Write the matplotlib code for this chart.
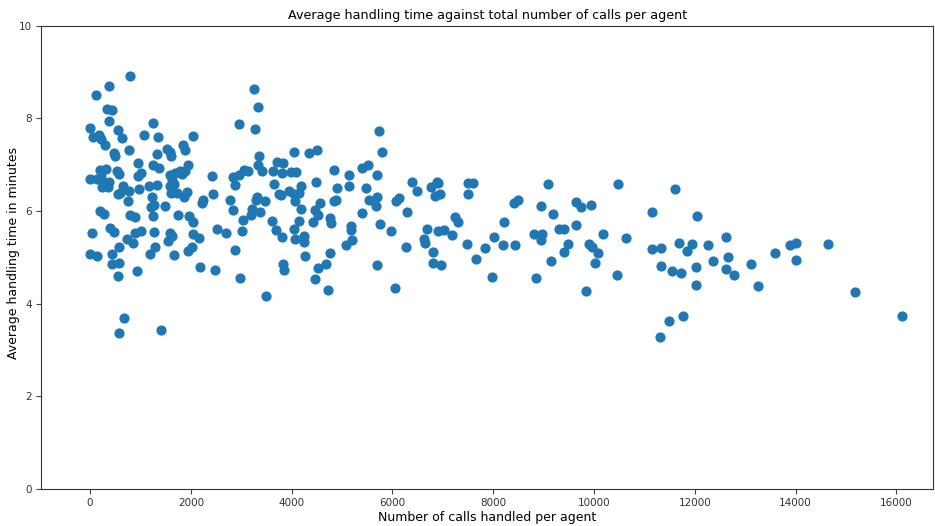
import matplotlib
matplotlib.use("Agg")
import matplotlib.pyplot as plt

# calls handled per agent and their average handling time (minutes)
calls = [
    799, 383, 125, 337, 442, 383, 0, 548, 1249, 59, 172, 218, 628, 1077, 1354,
    297, 779, 470, 490, 1334, 1520, 1580, 1612, 1849, 1877, 951, 1249, 1374,
    205, 317, 132, 0, 218, 264, 370, 244, 363, 541, 581, 945, 1011,
    647, 595, 548, 779, 971, 760, 1176, 1334, 1229, 1209, 1275, 1249, 1480,
    1592, 1685, 1777, 1632, 1586, 1658, 1605, 1718, 1863, 1916, 1738,
    205, 284, 793, 898, 33, 403, 470, 885, 1017, 740, 846, 575, 1268, 1295,
    1183, 0, 132, 442, 442, 575, 548, 931, 674, 568, 1401, 1579, 1632, 1546,
    1665,
    3244, 3343, 2947, 3264, 2035, 1949, 1883, 1817, 2412, 3350, 2834, 2960,
    3058, 3138, 2881, 3336, 3409, 3627, 3720, 3839, 3819, 3984, 4089, 4043,
    4341, 4513, 3660, 3958, 3746, 3799, 4049, 4142, 4069, 4188, 4486, 2432,
    2775, 2834, 3323, 3290, 3469, 3217, 3197, 3369, 3026, 3006, 2517, 2689,
    2213, 2246, 1968, 2035, 2035, 2160, 1949, 2015, 2180, 2471, 2881, 2979,
    3494, 3620, 3687, 3812, 4043, 4063, 4149, 4188, 4241, 4241, 4261, 3832,
    3859, 4426, 4466, 4525, 4572, 4677, 4532, 4466, 4717,
    5741, 5800, 4850, 5147, 5397, 5510, 5695, 4896, 5147, 5484, 5543, 5702,
    5675, 4850, 4876, 4763, 4790, 5397, 5187, 5187, 5207, 5080, 5761, 5966,
    4763, 5695, 6059, 6078, 6124, 6289, 6269, 6396, 6481, 6759, 6884, 6904,
    6951, 6852, 7234, 7308, 6692, 6626, 6640, 6904, 7030, 7181, 6798, 6798,
    6970, 7505, 7505, 7485,
    7604, 7664, 7835, 8007, 7981, 8192, 8219, 8430, 8404, 8496, 8807, 8965,
    8939, 8853, 8939, 9084, 9190, 9315, 9401, 9151, 9401, 9487, 9652, 9738,
    9950, 9652, 9896, 9955, 10088, 10015, 10187, 9844,
    10485, 10630, 10465, 11158, 11608, 12044, 11158, 11330, 11694, 11839,
    11945, 12262, 12619, 11330, 11541, 11733, 12031, 12031, 12368, 12665,
    12619, 12771, 13107, 13259, 11482, 11760, 11311,
    13597, 13893, 14006, 14006, 14653, 15189, 16121,
]
aht = [
    8.92, 8.69, 8.51, 8.21, 8.18, 7.95, 7.79, 7.75, 7.90, 7.60, 7.65, 7.55,
    7.58, 7.65, 7.60, 7.42, 7.31, 7.26, 7.18, 7.23, 7.35, 7.28, 7.19, 7.42,
    7.32, 7.03, 6.99, 6.93,
    6.89, 6.91, 6.70, 6.70, 6.75, 6.63, 6.62, 6.53, 6.53, 6.87, 6.80, 6.75,
    6.82, 6.54, 6.40, 6.37, 6.44, 6.47, 6.22, 6.54, 6.57, 6.30, 6.08, 6.13,
    5.90, 6.11, 6.77, 6.82, 6.87, 6.67, 6.54, 6.58, 6.39, 6.39, 6.31, 6.41,
    5.92, 6.01, 5.94, 5.92, 5.87, 5.53, 5.64, 5.56, 5.53, 5.57, 5.39, 5.32,
    5.23, 5.55, 5.23, 5.07, 5.08, 5.03, 5.07, 4.86, 4.89, 4.60, 4.70, 3.69,
    3.36, 3.43, 5.52, 5.46, 5.36, 5.05,
    8.64, 8.25, 7.88, 7.77, 7.62, 7.00, 6.87, 6.80, 6.75, 7.18, 6.73, 6.79,
    6.89, 6.87, 6.57, 7.00, 6.87, 6.86, 7.06, 7.03, 6.82, 6.84, 6.84, 7.28,
    7.26, 7.33, 6.59, 6.43, 6.36, 6.34, 6.37, 6.39, 6.22, 6.54, 6.62, 6.38,
    6.25, 6.02, 6.31, 6.24, 6.22, 6.04, 5.92, 5.99, 5.80, 5.57, 5.62, 5.53,
    6.17, 6.24, 5.90, 5.76, 5.51, 5.41, 5.14, 5.22, 4.79, 4.74, 5.16, 4.56,
    4.17, 5.78, 5.60, 5.44, 5.62, 5.39, 5.78, 6.05, 5.46, 5.33, 5.04, 4.86,
    4.72, 5.76, 6.02, 5.92, 6.17, 4.87, 4.77, 4.54, 4.30,
    7.74, 7.28, 6.89, 6.77, 6.93, 7.00, 6.77, 6.49, 6.54, 6.49, 6.24, 6.30,
    6.12, 6.22, 6.24, 5.85, 5.74, 5.97, 5.69, 5.59, 5.38, 5.26, 5.72, 5.57,
    5.09, 4.84, 4.35, 6.21, 6.29, 5.99, 5.23, 6.62, 6.43, 6.52, 6.62, 6.60,
    6.38, 6.33, 5.87, 5.76, 5.62, 5.39, 5.32, 5.57, 5.59, 5.49, 5.11, 4.88,
    4.84, 6.61, 6.38, 5.30,
    6.61, 4.97, 5.21, 5.44, 4.58, 5.26, 5.76, 5.27, 6.17, 6.25, 5.51, 5.51,
    5.38, 4.56, 6.11, 6.59, 5.94, 5.62, 5.62, 4.93, 5.11, 5.30, 6.20, 6.08,
    6.13, 5.71, 5.30, 5.23, 5.09, 4.88, 5.51, 4.28,
    6.59, 5.41, 4.63, 5.99, 6.47, 5.90, 5.18, 5.21, 5.32, 5.13, 5.30, 5.28,
    5.44, 4.82, 4.70, 4.66, 4.79, 4.41, 4.93, 5.02, 4.76, 4.63, 4.86, 4.39,
    3.64, 3.73, 3.29,
    5.09, 5.27, 5.32, 4.95, 5.30, 4.26, 3.73,
]

fig = plt.figure(figsize=(9.35, 5.26), dpi=100)
ax = fig.add_axes([0.044, 0.070, 0.954, 0.881])

ax.scatter(calls, aht, s=40, color="#1f77b4")

ax.set_xlim(-970, 16730)
ax.set_ylim(0, 10)
ax.set_xticks(range(0, 16001, 2000))
ax.set_yticks(range(0, 11, 2))
ax.tick_params(labelsize=7.5, colors="#444444", labelcolor="#333333", pad=3)
for spine in ax.spines.values():
    spine.set_color("#333333")

ax.set_title("Average handling time against total number of calls per agent",
             fontsize=9.2, pad=5)
ax.set_xlabel("Number of calls handled per agent", fontsize=9)
ax.set_ylabel("Average handling time in minutes", fontsize=9)
ax.xaxis.set_label_coords(0.5, -0.048)
ax.yaxis.set_label_coords(-0.0235, 0.51)

fig.savefig("out.png", dpi=100)
